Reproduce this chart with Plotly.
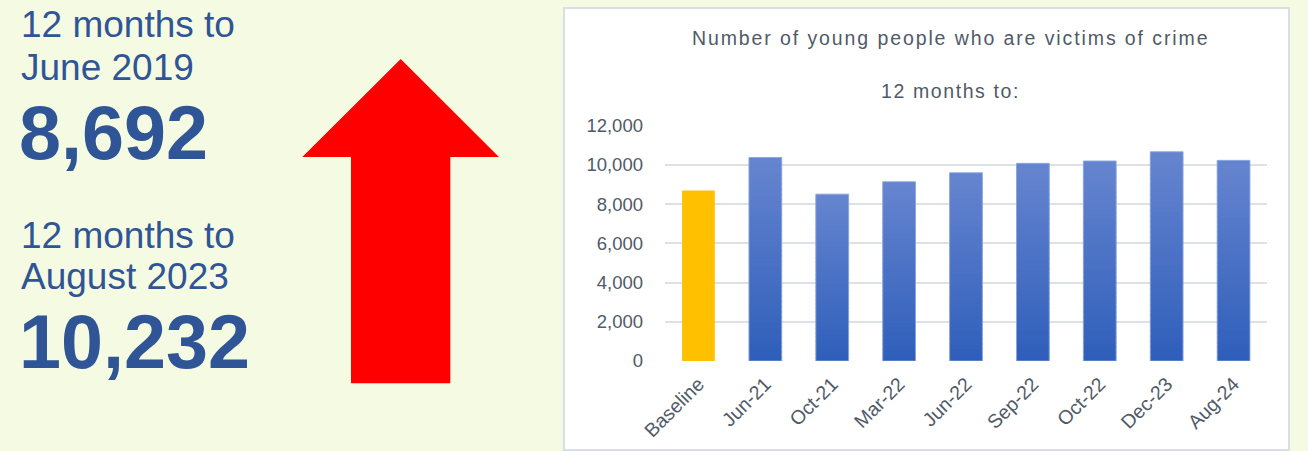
import plotly.graph_objects as go

# ---- data -------------------------------------------------------------
categories = ["Baseline", "Jun-21", "Oct-21", "Mar-22", "Jun-22",
              "Sep-22", "Oct-22", "Dec-23", "Aug-24"]
victims = [8692, 10380, 8510, 9140, 9600, 10080, 10200, 10670, 10232]

headline_periods = ["12 months to<br>June 2019", "12 months to<br>August 2023"]
headline_values = ["8,692", "10,232"]

chart_title = "Number of young people who are victims of crime"
chart_subtitle = "12 months to:"

y_ticks = [0, 2000, 4000, 6000, 8000, 10000, 12000]

# ---- figure geometry (pixels) ----------------------------------------
W, H = 1308, 451


def px(x):
    return x / W


def py(y):
    return 1 - y / H


FONT = "Arial, Liberation Sans, sans-serif"
BLUE_TXT = "#2F5597"
GREY_TXT = "#505A68"
GOLD = "#FFC000"
TOP_RGB = (101, 132, 207)
BOT_RGB = (46, 94, 186)

fig = go.Figure()

# baseline bar
fig.add_trace(go.Bar(
    x=categories[:1], y=victims[:1], width=0.49,
    marker=dict(color=GOLD, line=dict(width=0)),
    hoverinfo="x+y", showlegend=False,
))

# remaining bars drawn as vertical gradients: each bar split into
# overlapping slices so no gaps appear between them
N = 40
gx, gbase, gy, gcol = [], [], [], []
for cat, v in zip(categories[1:], victims[1:]):
    step = v / N
    for i in range(N):
        t = i / (N - 1)
        r = round(BOT_RGB[0] + (TOP_RGB[0] - BOT_RGB[0]) * t)
        g = round(BOT_RGB[1] + (TOP_RGB[1] - BOT_RGB[1]) * t)
        b = round(BOT_RGB[2] + (TOP_RGB[2] - BOT_RGB[2]) * t)
        lo = step * i - (0.6 * step if i > 0 else 0)
        hi = step * (i + 1)
        gx.append(cat)
        gbase.append(lo)
        gy.append(hi - lo)
        gcol.append(f"rgb({r},{g},{b})")

fig.add_trace(go.Bar(
    x=gx, y=gy, base=gbase, width=0.49,
    marker=dict(color=gcol, line=dict(width=0)),
    hoverinfo="skip", showlegend=False,
))

# thin light outline around each blue bar
fig.add_trace(go.Bar(
    x=categories[1:], y=victims[1:], width=0.49,
    marker=dict(color="rgba(0,0,0,0)", line=dict(width=1, color="rgba(140,166,222,0.9)")),
    hoverinfo="x+y", showlegend=False,
))

shapes = [
    # white chart panel
    dict(type="rect", xref="paper", yref="paper", layer="below",
         x0=px(564), x1=px(1289), y0=py(450), y1=py(8),
         fillcolor="white", line=dict(color="#D9DEE4", width=2)),
    # red up arrow
    dict(type="path", xref="paper", yref="paper", layer="above",
         path=(f"M {px(400.7)},{py(59)} L {px(499)},{py(157)} L {px(450.3)},{py(157)} "
               f"L {px(450.3)},{py(383.3)} L {px(351)},{py(383.3)} L {px(351)},{py(157)} "
               f"L {px(302.3)},{py(157)} Z"),
         fillcolor="#FF0000", line=dict(width=0)),
]

annotations = []
period_y = [(25, 68), (235, 276)]
value_y = [133, 341.5]
for (y1, y2), txt, val, vy in zip(period_y, headline_periods, headline_values, value_y):
    l1, l2 = txt.split("<br>")
    for line, yy in ((l1, y1), (l2, y2)):
        annotations.append(dict(
            text=line, xref="paper", yref="paper", x=px(19), y=py(yy),
            xanchor="left", yanchor="middle", showarrow=False,
            font=dict(family=FONT, size=37, color=BLUE_TXT)))
    annotations.append(dict(
        text=f"<b>{val}</b>", xref="paper", yref="paper", x=px(17), y=py(vy),
        xanchor="left", yanchor="middle", showarrow=False,
        font=dict(family=FONT, size=75.5, color=BLUE_TXT)))

for txt, yy, ls in ((chart_title, 38.3, 1.9), (chart_subtitle, 91, 1.6)):
    annotations.append(dict(
        text=f'<span style="letter-spacing:{ls}px">{txt}</span>',
        xref="paper", yref="paper", x=px(950), y=py(yy),
        xanchor="center", yanchor="middle", showarrow=False,
        font=dict(family=FONT, size=19.5, color=GREY_TXT)))

fig.update_layout(
    width=W, height=H,
    margin=dict(l=0, r=0, t=0, b=0),
    paper_bgcolor="#F5FBE2",
    plot_bgcolor="rgba(0,0,0,0)",
    barmode="overlay",
    showlegend=False,
    shapes=shapes,
    annotations=annotations,
    xaxis=dict(
        domain=[px(665), px(1267)], automargin=False,
        categoryorder="array", categoryarray=categories,
        range=[-0.5, len(categories) - 0.5],
        tickangle=-45, showgrid=False, zeroline=False,
        showline=False, ticks="", ticklabelstandoff=7,
        tickfont=dict(family=FONT, size=19.5, color=GREY_TXT),
    ),
    yaxis=dict(
        domain=[py(361), py(125.7)], automargin=False,
        range=[0, 12000], tickvals=y_ticks, tickformat=",",
        showgrid=True, gridcolor="#DDE1E6", gridwidth=1.5,
        zeroline=False, showline=False, ticks="", ticklabelstandoff=21,
        tickfont=dict(family=FONT, size=18.5, color=GREY_TXT),
    ),
)

fig.write_html("out.html")
